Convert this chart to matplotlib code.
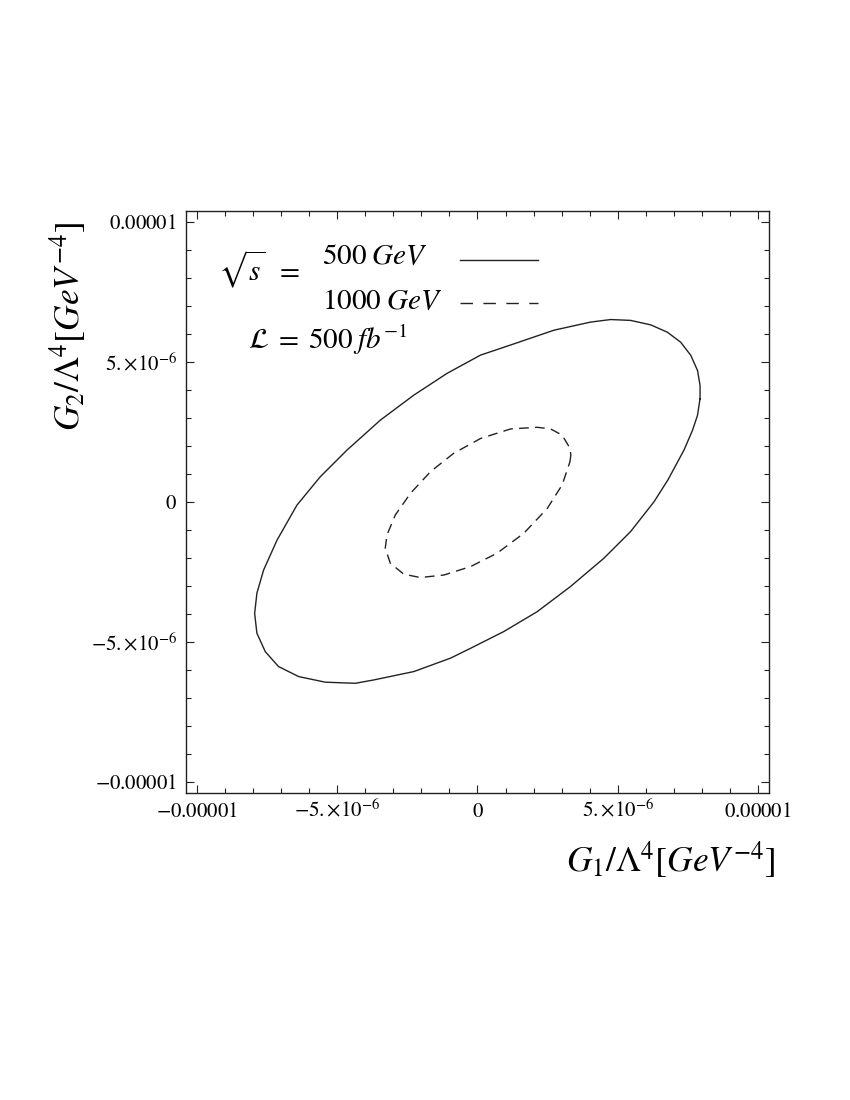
import matplotlib.pyplot as plt
from matplotlib.ticker import MultipleLocator
from matplotlib.lines import Line2D

plt.rcParams['font.family'] = ['Liberation Serif', 'DejaVu Serif']
plt.rcParams['mathtext.fontset'] = 'stix'

# contours, units of 1e-6 GeV^-4
# sqrt(s) = 500 GeV (solid)
g1_500 = [7.94, 7.94, 7.85, 7.61, 7.25, 6.77, 6.18, 5.46, 4.75, 4.04, 2.73,
          1.18, 0.11, -1.08, -2.27, -3.46, -4.65, -5.61, -6.44, -7.15,
          -7.63, -7.87, -7.95, -7.87, -7.57, -7.10, -6.38, -5.43, -4.36,
          -3.70, -2.27, -0.96, -0.25, 0.94, 2.13, 3.32, 4.51, 5.46, 6.30,
          6.80, 7.37, 7.67, 7.85, 7.94]
g2_500 = [3.69, 4.17, 4.70, 5.24, 5.71, 6.07, 6.33, 6.49, 6.52, 6.43, 6.14,
          5.61, 5.25, 4.60, 3.82, 2.93, 1.86, 0.90, -0.11, -1.36,
          -2.43, -3.26, -3.98, -4.69, -5.35, -5.88, -6.24, -6.44, -6.48,
          -6.36, -6.06, -5.58, -5.23, -4.63, -3.92, -3.02, -2.01, -1.06, 0.01,
          0.80, 1.86, 2.56, 3.10, 3.69]

# sqrt(s) = 1000 GeV (dashed)
g1_1000 = [3.30, 3.33, 3.30, 3.02, 2.61, 2.13, 1.18, 0.11, -0.85, -1.68,
           -2.39, -2.93, -3.23, -3.29, -3.11, -2.63, -2.04, -1.20, -0.25,
           0.70, 1.65, 2.49, 3.02, 3.30]
g2_1000 = [1.44, 1.68, 1.92, 2.39, 2.61, 2.67, 2.61, 2.27, 1.74, 1.08,
           0.31, -0.46, -1.18, -1.65, -2.19, -2.58, -2.70, -2.61, -2.31,
           -1.83, -1.12, -0.23, 0.61, 1.44]

scale = 1e-6
tick_vals = [-1e-5, -5e-6, 0, 5e-6, 1e-5]
tick_labels = [r'$-0.00001$', r'$-5.{\times}10^{-6}$', r'$0$',
               r'$5.{\times}10^{-6}$', r'$0.00001$']

fig = plt.figure(figsize=(8.5, 11), dpi=100)
ax = fig.add_axes([0.2188, 0.2791, 0.6859, 0.5291])

ax.plot([v * scale for v in g1_500], [v * scale for v in g2_500],
        color='#222222', lw=1.0)
ax.plot([v * scale for v in g1_1000], [v * scale for v in g2_1000],
        color='#222222', lw=1.0, dashes=(7, 4.5))

ax.set_xlim(-1.04e-5, 1.04e-5)
ax.set_ylim(-1.04e-5, 1.04e-5)

ax.set_xticks(tick_vals)
ax.set_xticklabels(tick_labels)
ax.set_yticks(tick_vals)
ax.set_yticklabels(tick_labels)
ax.xaxis.set_minor_locator(MultipleLocator(1e-6))
ax.yaxis.set_minor_locator(MultipleLocator(1e-6))
ax.tick_params(which='both', direction='in', top=True, right=True,
               color='#222222', width=0.8)
ax.tick_params(which='major', length=6)
ax.tick_params(which='minor', length=3.5)
ax.tick_params(axis='y', labelsize=15, pad=6.5)
ax.tick_params(axis='x', labelsize=15, pad=17)
for lbl in ax.get_xticklabels():
    lbl.set_va('baseline')
for sp in ax.spines.values():
    sp.set_linewidth(1.0)
    sp.set_color('#222222')

# legend, drawn by hand like the original
ax.text(0.0549, 0.8814, r'$\sqrt{s}\;\;=$', transform=ax.transAxes,
        fontsize=21, va='baseline', ha='left')
ax.text(0.2328, 0.909, r'$500\;GeV$', transform=ax.transAxes,
        fontsize=21, va='baseline', ha='left')
ax.text(0.2328, 0.8316, r'$1000\;GeV$', transform=ax.transAxes,
        fontsize=21, va='baseline', ha='left')
ax.text(0.1063, 0.763, r'$\mathcal{L}\;=\;500\;fb^{-1}$', transform=ax.transAxes,
        fontsize=21, va='baseline', ha='left')
ax.add_line(Line2D([0.470, 0.604], [0.9158, 0.9158], transform=ax.transAxes,
                   color='#222222', lw=1.0))
ax.add_line(Line2D([0.470, 0.604], [0.8424, 0.8424], transform=ax.transAxes,
                   color='#222222', lw=1.0, dashes=(9, 7.5)))

# axis labels sit at the far ends of the axes
fig.text(775 / 850, 1 - 872 / 1100, r'$G_1/\Lambda^4[GeV^{-4}]$',
         fontsize=25.5, ha='right', va='baseline')
fig.text(68 / 850, 1 - 222 / 1100, r'$G_2/\Lambda^4[GeV^{-4}]$',
         fontsize=25.5, ha='center', va='top', rotation=90)

fig.savefig('out.png', dpi=100)
